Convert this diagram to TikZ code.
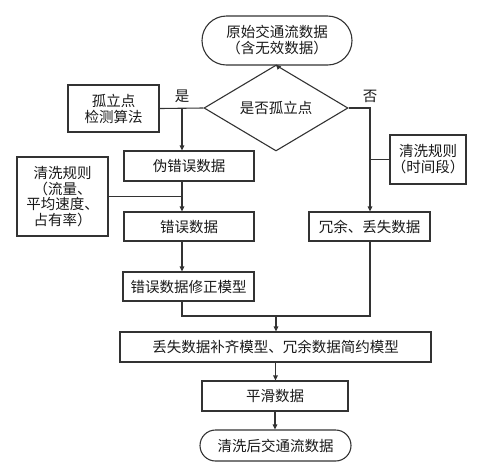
\documentclass[tikz,border=0pt]{standalone}
\usepackage{fontspec}
\setmainfont{Noto Sans CJK SC}
\usetikzlibrary{shapes.geometric,shapes.misc,arrows.meta}
\begin{document}
\begin{tikzpicture}[x=1pt,y=-1pt,
  every node/.style={font=\fontsize{14.5}{16}\selectfont, text=black!90, inner sep=0pt},
  box/.style={draw=black!80, line width=1.1pt, rectangle, align=center},
  term/.style={draw=black!80, line width=1.1pt, rounded rectangle, align=center},
  dia/.style={draw=black!80, line width=1.1pt, diamond, align=center},
  conn/.style={draw=black!80, line width=1.1pt},
  arr/.style={conn, -{Triangle[length=5pt,width=4.5pt]}}]
\useasboundingbox (0,0) rectangle (479,467);
\node[term, minimum width=150, minimum height=49] (start) at (277,40.5) {原始交通流数据\\（含无效数据）};
\node[dia, minimum width=144, minimum height=50] (dec) at (276,108) {是否孤立点};
\node[box, minimum width=91, minimum height=47] (iso) at (113.5,108.5) {孤立点\\检测算法};
\node[box, minimum width=130, minimum height=30] (fake) at (189,166) {伪错误数据};
\node[box, minimum width=91, minimum height=79, font=\fontsize{14.5}{15.5}\selectfont] (rulea) at (62.5,196.5) {清洗规则\\（流量、\\平均速度、\\占有率）};
\node[box, minimum width=130, minimum height=29] (err) at (189,226.5) {错误数据};
\node[box, minimum width=131, minimum height=29] (fix) at (188.5,286.5) {错误数据修正模型};
\node[box, minimum width=76, minimum height=49] (ruleb) at (428,159.5) {清洗规则\\（时间段）};
\node[box, minimum width=121, minimum height=29] (red) at (369.5,226.5) {冗余、丢失数据};
\node[box, minimum width=311, minimum height=30] (fill) at (275.5,347) {丢失数据补齐模型、冗余数据简约模型};
\node[box, minimum width=146, minimum height=30] (smooth) at (275,396) {平滑数据};
\node[term, minimum width=151, minimum height=31] (end) at (275.5,445.5) {清洗后交通流数据};
\node (yes) at (182,96) {是};
\node (no) at (370,96) {否};
\coordinate (ya) at (182,108);
\coordinate (na) at (370,108);
\coordinate (ma) at (182,316);
\coordinate (mb) at (370,316);
\coordinate (mc) at (276,316);
\draw[arr] (start.south) -- (dec.north);
\draw[conn] (iso.east) -- (dec.west);
\draw[arr] (ya) -- (ya |- fake.north);
\draw[arr] (dec.east) -- (na) -- (na |- red.north);
\draw[conn] (ruleb.west) -- (na |- ruleb.west);
\draw[arr] (ya |- fake.south) -- (ya |- err.north);
\draw[conn] (rulea.east) -- (ya |- rulea.east);
\draw[arr] (ya |- err.south) -- (ya |- fix.north);
\draw[conn] (ya |- fix.south) -- (ma) -- (mb) -- (na |- red.south);
\draw[arr] (mc) -- (mc |- fill.north);
\draw[arr] (fill.south) -- (fill.south |- smooth.north);
\draw[arr] (smooth.south) -- (smooth.south |- end.north);
\end{tikzpicture}
\end{document}
